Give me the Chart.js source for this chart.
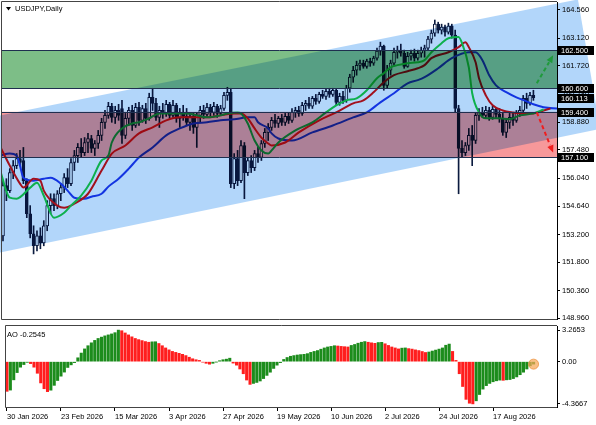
<!DOCTYPE html>
<html>
<head>
<meta charset="utf-8">
<title>USDJPY, Daily</title>
<script src="https://cdn.jsdelivr.net/npm/chart.js@4.4.1/dist/chart.umd.min.js"></script>
<style>
  html, body { margin: 0; padding: 0; background: #ffffff; }
  #wrap { position: relative; width: 596px; height: 425px; overflow: hidden; }
  canvas { position: absolute; left: 0; }
  #priceChart { top: 0; }
  #aoChart { top: 320px; }
</style>
</head>
<body>
<div id="wrap">
  <canvas id="priceChart" width="596" height="320"></canvas>
  <canvas id="aoChart" width="596" height="105"></canvas>
</div>
<script>
// ===========================
// DATA
// ===========================

const chartTitle = "USDJPY,Daily";

const dateLabels = [
  "30 Jan 2026", "23 Feb 2026", "15 Mar 2026", "3 Apr 2026", "27 Apr 2026",
  "19 May 2026", "10 Jun 2026", "2 Jul 2026", "24 Jul 2026", "17 Aug 2026",
];
const labelStep = 16; // bars between two date labels

const opens = [
  153.13, 155.67, 155.42, 156.33, 156.68, 157.04, 156.94, 155.92, 154.25, 153.24,
  152.63, 153.13, 152.78, 153.64, 154.66, 155.01, 154.66, 155.26, 155.57, 156.08,
  155.77, 156.84, 157.19, 157.60, 157.34, 157.85, 158.05, 157.55, 157.80, 158.21,
  158.87, 159.22, 159.68, 159.12, 159.47, 159.57, 158.21, 159.07, 159.47, 158.71,
  159.63, 158.97, 159.57, 159.07, 160.13, 159.83, 159.12, 159.47, 159.32, 159.78,
  159.22, 159.73, 159.07, 159.37, 159.17, 158.87, 159.17, 158.61, 159.22, 159.47,
  159.27, 159.63, 159.37, 159.68, 159.32, 159.57, 160.23, 160.39, 155.77, 157.04,
  155.92, 157.70, 156.33, 156.94, 156.58, 157.29, 157.09, 157.80, 158.36, 158.61,
  158.97, 158.81, 159.07, 158.87, 159.17, 158.97, 159.37, 159.47, 159.32, 159.73,
  159.83, 159.68, 160.08, 159.93, 160.28, 160.18, 160.44, 160.28, 160.49, 159.88,
  160.18, 159.98, 160.59, 161.15, 161.50, 161.75, 161.86, 161.70, 161.96, 161.86,
  162.11, 162.47, 162.72, 160.74, 161.50, 161.86, 162.41, 162.52, 162.36, 161.70,
  162.21, 162.36, 162.11, 162.36, 162.52, 162.62, 163.07, 163.38, 163.83, 163.53,
  163.68, 163.43, 163.73, 163.28, 159.57, 157.55, 157.34, 157.70, 158.21, 157.95,
  159.22, 159.37, 159.22, 159.47, 159.12, 159.52, 159.27, 159.07, 158.36, 158.87,
  159.12, 158.97, 159.32, 159.47, 160.08, 159.83, 160.23,
];
const highs = [
  155.92, 156.02, 156.53, 156.94, 157.29, 157.45, 157.60, 156.02, 154.66, 153.64,
  153.39, 153.54, 153.90, 154.91, 155.26, 155.26, 155.42, 155.77, 156.28, 156.53,
  157.04, 157.45, 157.80, 158.05, 158.10, 158.31, 158.21, 157.95, 158.46, 159.07,
  159.47, 159.88, 159.83, 159.68, 159.78, 159.98, 159.32, 159.63, 159.73, 159.83,
  159.88, 159.73, 159.83, 160.34, 160.59, 160.08, 159.68, 159.83, 159.98, 159.88,
  159.98, 159.83, 159.57, 159.73, 159.57, 159.37, 159.32, 159.37, 159.68, 159.73,
  159.83, 159.78, 159.88, 159.78, 159.73, 160.39, 160.64, 160.59, 157.29, 157.45,
  157.95, 157.85, 157.09, 157.19, 157.45, 157.60, 157.95, 158.56, 158.81, 159.12,
  159.27, 159.17, 159.27, 159.32, 159.37, 159.57, 159.63, 159.68, 159.88, 159.98,
  160.13, 160.18, 160.28, 160.39, 160.49, 160.54, 160.59, 160.59, 160.54, 160.34,
  160.44, 160.74, 161.30, 161.70, 161.96, 162.01, 162.01, 162.06, 162.11, 162.21,
  162.62, 162.92, 162.77, 161.75, 162.01, 162.62, 162.72, 162.82, 162.52, 162.41,
  162.52, 162.57, 162.52, 162.67, 162.77, 163.22, 163.53, 164.04, 163.93, 163.83,
  163.78, 163.88, 163.83, 163.53, 159.73, 157.95, 157.85, 158.56, 158.71, 159.37,
  159.57, 159.63, 159.68, 159.63, 159.68, 159.63, 159.57, 159.32, 159.07, 159.32,
  159.37, 159.47, 159.68, 160.23, 160.34, 160.39, 160.49,
];
const lows = [
  152.88, 154.91, 155.32, 156.02, 156.53, 156.68, 155.77, 154.05, 153.03, 152.22,
  152.37, 152.48, 152.63, 153.39, 154.25, 154.40, 154.50, 154.91, 155.32, 155.57,
  155.67, 156.43, 156.84, 157.09, 157.19, 157.34, 157.34, 157.19, 157.55, 157.95,
  158.56, 159.07, 158.87, 158.81, 158.97, 157.80, 158.05, 158.71, 158.46, 158.61,
  158.71, 158.87, 158.81, 158.97, 159.47, 158.97, 158.61, 159.07, 159.17, 159.07,
  159.12, 158.87, 158.61, 158.97, 158.71, 158.46, 158.31, 157.60, 158.87, 159.07,
  159.17, 159.12, 159.22, 159.12, 159.22, 159.47, 159.98, 155.57, 155.52, 155.67,
  155.82, 155.01, 156.18, 156.33, 156.43, 156.84, 156.94, 157.60, 157.95, 158.46,
  158.61, 158.61, 158.71, 158.71, 158.81, 158.87, 159.12, 159.17, 159.22, 159.47,
  159.57, 159.57, 159.78, 159.83, 160.08, 160.03, 160.13, 160.18, 159.73, 159.73,
  159.83, 159.88, 160.39, 160.89, 161.25, 161.50, 161.60, 161.60, 161.70, 161.75,
  162.01, 162.26, 160.49, 160.59, 161.25, 161.75, 162.11, 162.21, 161.60, 161.65,
  162.01, 161.96, 162.01, 162.16, 162.16, 162.52, 162.87, 163.22, 163.38, 163.33,
  163.22, 163.33, 163.12, 159.37, 155.26, 157.09, 157.19, 157.45, 156.68, 157.80,
  158.97, 159.12, 159.07, 158.97, 159.02, 159.07, 158.87, 158.21, 158.10, 158.56,
  158.71, 158.87, 159.17, 159.37, 159.57, 159.73, 159.98,
];
const closes = [
  155.67, 155.42, 156.33, 156.68, 157.04, 156.84, 155.92, 154.25, 153.24, 152.63,
  153.13, 152.78, 153.64, 154.66, 155.01, 154.66, 155.26, 155.57, 156.08, 155.77,
  156.84, 157.19, 157.60, 157.34, 157.85, 158.05, 157.55, 157.80, 158.21, 158.87,
  159.22, 159.68, 159.12, 159.47, 159.22, 158.21, 159.07, 159.47, 158.71, 159.63,
  158.97, 159.57, 159.07, 160.13, 159.83, 159.12, 159.47, 159.32, 159.78, 159.22,
  159.73, 159.07, 159.37, 159.17, 158.87, 159.17, 158.61, 159.22, 159.47, 159.27,
  159.63, 159.37, 159.68, 159.32, 159.57, 160.23, 160.39, 155.77, 157.04, 155.92,
  157.70, 156.33, 156.94, 156.58, 157.29, 157.09, 157.80, 158.36, 158.61, 158.97,
  158.81, 159.07, 158.87, 159.17, 158.97, 159.37, 159.47, 159.32, 159.73, 159.83,
  159.68, 160.08, 159.93, 160.28, 160.18, 160.44, 160.28, 160.49, 159.88, 160.18,
  159.98, 160.59, 161.15, 161.50, 161.75, 161.86, 161.70, 161.96, 161.86, 162.11,
  162.47, 162.72, 160.74, 161.50, 161.86, 162.41, 162.52, 162.36, 161.70, 162.21,
  162.36, 162.11, 162.36, 162.52, 162.62, 163.07, 163.38, 163.83, 163.53, 163.68,
  163.43, 163.73, 163.28, 159.57, 157.55, 157.34, 157.70, 158.21, 157.95, 159.22,
  159.37, 159.22, 159.47, 159.12, 159.52, 159.27, 159.07, 158.36, 158.87, 159.12,
  158.97, 159.32, 159.47, 160.08, 159.83, 160.23, 160.113,
];

// Alligator lines, sampled as [bar, price]
const lipsLine = [
  [-1, 156.53], [2, 155.06], [4, 155.01], [8, 155.57], [10, 155.82], [12, 155.16],
  [15, 154.05], [18, 154.30], [20, 154.66], [23, 155.16], [26, 155.92], [29, 156.94],
  [31, 157.19], [32, 157.85], [35, 158.56], [38, 158.81], [40, 158.87], [43, 159.07],
  [46, 159.32], [50, 159.32], [54, 159.32], [57, 159.22], [60, 159.12], [64, 159.22],
  [66, 159.32], [69, 159.37], [70, 159.32], [72, 158.81], [74, 157.95], [76, 157.45],
  [78, 157.29], [79, 157.45], [81, 157.85], [86, 158.46], [91, 158.87], [95, 159.37],
  [98, 159.73], [101, 159.98], [104, 160.08], [107, 160.49], [110, 161.10], [112, 161.35],
  [114, 161.65], [116, 161.76], [119, 161.86], [122, 161.91], [124, 162.01], [126, 162.41],
  [129, 162.87], [131, 163.12], [134, 163.18], [135, 162.87], [137, 161.65], [138, 160.34],
  [140, 159.37], [142, 159.07], [146, 159.07], [149, 159.02], [152, 159.22], [156, 159.32],
  [159, 159.52],
];
const teethLine = [
  [-1, 157.70], [2, 156.68], [5, 155.77], [6, 155.57], [9, 156.02], [11, 155.92],
  [12, 155.42], [16, 154.66], [18, 154.55], [21, 154.76], [25, 155.26], [29, 156.43],
  [32, 157.29], [36, 157.70], [40, 158.31], [44, 158.61], [48, 158.97], [52, 159.12],
  [56, 159.12], [60, 159.12], [64, 159.22], [68, 159.32], [70, 159.32], [72, 159.07],
  [74, 158.56], [76, 158.10], [78, 157.80], [79, 157.70], [83, 157.85], [87, 158.36],
  [93, 158.97], [98, 159.37], [103, 159.83], [106, 159.98], [109, 160.39], [112, 160.89],
  [115, 161.25], [119, 161.45], [122, 161.60], [124, 161.76], [126, 162.11], [131, 162.41],
  [134, 162.67], [136, 162.92], [137, 162.67], [139, 161.91], [140, 161.10], [142, 160.23],
  [144, 159.73], [147, 159.47], [150, 159.37], [153, 159.32], [156, 159.32], [159, 159.47],
  [161, 159.57],
];
const jawLine = [
  [-1, 157.19], [2, 157.29], [4, 157.19], [5, 156.68], [6, 156.07], [9, 155.92],
  [12, 156.02], [14, 156.07], [17, 155.77], [19, 155.42], [21, 155.06], [24, 155.01],
  [26, 155.11], [29, 155.26], [31, 155.62], [34, 156.02], [37, 156.53], [40, 157.09],
  [44, 157.60], [48, 158.21], [52, 158.56], [56, 158.81], [60, 158.87], [64, 158.97],
  [68, 159.02], [72, 159.12], [74, 159.12], [75, 158.87], [78, 158.56], [79, 158.31],
  [81, 158.05], [85, 157.95], [91, 158.36], [97, 158.71], [103, 159.12], [107, 159.37],
  [111, 159.88], [115, 160.34], [119, 160.84], [122, 161.00], [124, 161.15], [128, 161.60],
  [132, 162.11], [137, 162.41], [139, 162.41], [141, 162.01], [143, 161.25], [145, 160.74],
  [148, 160.39], [151, 160.13], [154, 159.93], [156, 159.78], [159, 159.63], [163, 159.57],
  [164, 159.57],
];

const priceTicks = [164.56, 163.12, 161.72, 160.28, 158.88, 157.48, 156.04, 154.64, 153.2, 151.8, 150.36, 148.96];
const priceMarks = [162.5, 160.6, 160.113, 159.4, 157.1];
const greenZone = [160.6, 162.5];
const redZone = [157.1, 159.4];
const zoneLevels = [162.5, 160.6, 159.4, 157.1];
const channelCorners = [[-10, 158.90], [169.1, 165.08], [175.6, 158.54], [-10, 151.97]];
const upArrow = [[157, 160.84], [161.8, 162.26]];
const downArrow = [[157, 159.37], [161.8, 157.34]];

const aoValues = [
  -3.07, -2.94, -1.88, -1.13, -0.57, -0.30, -0.07, -0.20, -0.57, -1.20,
  -2.20, -2.80, -3.10, -2.95, -2.45, -1.95, -1.50, -1.08, -0.60, -0.33,
  -0.10, 0.40, 0.89, 1.32, 1.65, 1.95, 2.20, 2.40, 2.54, 2.67,
  2.77, 2.87, 3.00, 3.2653, 3.20, 2.97, 2.77, 2.57, 2.40, 2.28,
  2.18, 2.08, 2.01, 2.05, 2.06, 1.88, 1.65, 1.42, 1.22, 1.06,
  0.96, 0.86, 0.76, 0.63, 0.46, 0.30, 0.20, 0.13, -0.05, -0.17,
  -0.26, -0.17, -0.03, 0.10, 0.20, 0.26, 0.36, -0.15, -0.36, -0.76,
  -1.25, -1.90, -2.35, -2.25, -2.15, -2.00, -1.75, -1.42, -1.09, -0.70,
  -0.36, -0.10, 0.23, 0.43, 0.56, 0.63, 0.69, 0.73, 0.76, 0.83,
  0.96, 1.06, 1.15, 1.29, 1.42, 1.52, 1.58, 1.65, 1.62, 1.58,
  1.55, 1.52, 1.68, 1.78, 1.91, 2.01, 2.08, 2.01, 1.95, 1.90,
  1.98, 2.00, 1.85, 1.68, 1.52, 1.42, 1.32, 1.40, 1.42, 1.35,
  1.30, 1.22, 1.15, 1.05, 0.95, 1.00, 1.10, 1.20, 1.30, 1.42,
  1.70, 1.82, 1.06, 0.13, -1.25, -2.57, -3.90, -4.30, -4.3667, -4.05,
  -3.40, -2.84, -2.48, -2.25, -2.08, -1.98, -1.91, -1.93, -1.88, -1.85,
  -1.75, -1.58, -1.35, -1.09, -0.76, -0.43, -0.2545,
];
const aoPrior = -2.98; // bar just left of the visible window
const aoTicks = [3.2653, 0, -4.3667];
const aoTickLabels = ["3.2653", "0.00", "-4.3667"];

// ===========================
// LOOK
// ===========================

const FONT = "'Liberation Sans', Arial, sans-serif";
const CANDLE = "#0b1b3f";
const AO_UP = "#1c8c1c";
const AO_DOWN = "#ff1e1e";
const X_MIN = -0.29;
const X_MAX = 162.94;

Chart.defaults.font.family = FONT;
Chart.defaults.font.size = 7.5;
Chart.defaults.color = "#000000";

// keep the plot edge where the terminal has it (no room kept for half labels)
function fixWidth(s) {
  s.width = 39;
  s.paddingTop = 0;
  s.paddingBottom = 0;
}

const whiteBg = {
  id: "whiteBg",
  beforeDraw(chart) {
    const ctx = chart.ctx;
    ctx.save();
    ctx.fillStyle = "#ffffff";
    ctx.fillRect(0, 0, chart.width, chart.height);
    ctx.restore();
  },
};

function frame(ctx, a) {
  ctx.save();
  ctx.strokeStyle = "#444444";
  ctx.lineWidth = 1;
  ctx.beginPath();
  ctx.moveTo(a.right, a.top - 0.5);
  ctx.lineTo(a.left - 0.5, a.top - 0.5);
  ctx.lineTo(a.left - 0.5, a.bottom + 0.5);
  ctx.lineTo(a.right, a.bottom + 0.5);
  ctx.stroke();
  ctx.restore();
}

function drawArrow(ctx, x0, y0, x1, y1, color) {
  const ang = Math.atan2(y1 - y0, x1 - x0);
  const head = 8;
  ctx.save();
  ctx.strokeStyle = color;
  ctx.fillStyle = color;
  ctx.lineWidth = 2;
  ctx.setLineDash([4, 3]);
  ctx.beginPath();
  ctx.moveTo(x0, y0);
  ctx.lineTo(x1 - head * Math.cos(ang), y1 - head * Math.sin(ang));
  ctx.stroke();
  ctx.setLineDash([]);
  ctx.beginPath();
  ctx.moveTo(x1, y1);
  ctx.lineTo(x1 - head * Math.cos(ang - 0.42), y1 - head * Math.sin(ang - 0.42));
  ctx.lineTo(x1 - head * Math.cos(ang + 0.42), y1 - head * Math.sin(ang + 0.42));
  ctx.closePath();
  ctx.fill();
  ctx.restore();
}

// zones, channel, levels and arrows on top of the price chart
const objectsPlugin = {
  id: "objects",
  afterDatasetsDraw(chart) {
    const { ctx, chartArea: a, scales } = chart;
    const x = scales.x, y = scales.y;
    const pt = (p) => [x.getPixelForValue(p[0]), y.getPixelForValue(p[1])];

    ctx.save();
    ctx.globalCompositeOperation = "multiply";
    // channel spills over the price scale like in the terminal
    ctx.beginPath();
    channelCorners.forEach((c, k) => {
      const [cx, cy] = pt(c);
      if (k) ctx.lineTo(cx, cy);
      else ctx.moveTo(cx, cy);
    });
    ctx.closePath();
    ctx.fillStyle = "#b2d6fa";
    ctx.fill();

    ctx.beginPath();
    ctx.rect(a.left, a.top, a.right - a.left, a.bottom - a.top);
    ctx.clip();
    [[greenZone, "#7dbe87"], [redZone, "#f7989a"]].forEach(([z, col]) => {
      const top = y.getPixelForValue(z[1]);
      const bottom = y.getPixelForValue(z[0]);
      ctx.fillStyle = col;
      ctx.fillRect(a.left, top, a.right - a.left, bottom - top);
    });
    ctx.restore();

    ctx.save();
    ctx.strokeStyle = "#1f2f4f";
    ctx.lineWidth = 1;
    zoneLevels.forEach((lvl) => {
      const yy = Math.round(y.getPixelForValue(lvl)) + 0.5;
      ctx.beginPath();
      ctx.moveTo(a.left, yy);
      ctx.lineTo(a.right, yy);
      ctx.stroke();
    });
    ctx.restore();

    const u0 = pt(upArrow[0]), u1 = pt(upArrow[1]);
    drawArrow(ctx, u0[0], u0[1], u1[0], u1[1], "#1f9a3a");
    const d0 = pt(downArrow[0]), d1 = pt(downArrow[1]);
    drawArrow(ctx, d0[0], d0[1], d1[0], d1[1], "#f01e1e");

    frame(ctx, a);
  },
  afterDraw(chart) {
    const { ctx, chartArea: a, scales } = chart;
    const y = scales.y;
    ctx.save();
    ctx.font = "7.5px " + FONT;
    ctx.textBaseline = "middle";
    priceMarks.forEach((p) => {
      const yy = Math.round(y.getPixelForValue(p));
      ctx.fillStyle = "#000000";
      ctx.fillRect(a.right + 1, yy - 4, 36, 9);
      ctx.fillStyle = "#ffffff";
      ctx.fillText(p.toFixed(3), a.right + 4, yy + 0.5);
    });

    // title with the little drop-down triangle
    ctx.fillStyle = "#000000";
    ctx.beginPath();
    ctx.moveTo(6, 7);
    ctx.lineTo(11, 7);
    ctx.lineTo(8.5, 10.5);
    ctx.closePath();
    ctx.fill();
    ctx.fillText(chartTitle, 15, 9);
    ctx.restore();
  },
};

const aoPlugin = {
  id: "aoText",
  afterDraw(chart) {
    const { ctx, chartArea: a } = chart;
    frame(ctx, a);
    ctx.save();
    ctx.font = "7.5px " + FONT;
    ctx.fillStyle = "#000000";
    ctx.textBaseline = "middle";
    ctx.fillText("AO " + aoValues[aoValues.length - 1].toFixed(4), 7, a.top + 8.5);
    ctx.restore();
  },
};

// ===========================
// PRICE CHART
// ===========================

const bars = closes.map((c, i) => i);

new Chart(document.getElementById("priceChart"), {
  type: "bar",
  data: {
    datasets: [
      {
        type: "line",
        data: lipsLine.map(([i, p]) => ({ x: i, y: p })),
        borderColor: "#12d24e",
        borderWidth: 2,
        pointRadius: 0,
        cubicInterpolationMode: "monotone",
        order: 1,
      },
      {
        type: "line",
        data: teethLine.map(([i, p]) => ({ x: i, y: p })),
        borderColor: "#e8141e",
        borderWidth: 2,
        pointRadius: 0,
        cubicInterpolationMode: "monotone",
        order: 1,
      },
      {
        type: "line",
        data: jawLine.map(([i, p]) => ({ x: i, y: p })),
        borderColor: "#1a3ee6",
        borderWidth: 2,
        pointRadius: 0,
        cubicInterpolationMode: "monotone",
        order: 1,
      },
      {
        data: bars.map((i) => ({ x: i, y: [opens[i], closes[i]] })),
        backgroundColor: bars.map((i) => (closes[i] >= opens[i] ? "#ffffff" : CANDLE)),
        borderColor: CANDLE,
        borderWidth: 1,
        borderSkipped: false,
        barThickness: 3,
        minBarLength: 1,
        grouped: false,
        order: 5,
      },
      {
        data: bars.map((i) => ({ x: i, y: [lows[i], highs[i]] })),
        backgroundColor: CANDLE,
        barThickness: 1,
        grouped: false,
        order: 6,
      },
    ],
  },
  options: {
    responsive: false,
    animation: false,
    devicePixelRatio: 1,
    events: [],
    layout: { padding: { left: 2, top: 2, right: 0, bottom: 1 } },
    plugins: { legend: { display: false }, tooltip: { enabled: false } },
    scales: {
      x: { type: "linear", display: false, min: X_MIN, max: X_MAX, offset: false },
      y: {
        position: "right",
        min: 148.93,
        max: 164.95,
        bounds: "data",
        afterFit: fixWidth,
        afterBuildTicks: (s) => { s.ticks = priceTicks.map((v) => ({ value: v })); },
        ticks: { callback: (v) => Number(v).toFixed(3), padding: 2, color: "#000000" },
        grid: { drawOnChartArea: false, tickLength: 3, color: "#000000" },
        border: { display: true, color: "#000000" },
      },
    },
  },
  plugins: [whiteBg, objectsPlugin],
});

// ===========================
// AWESOME OSCILLATOR
// ===========================

const aoColors = aoValues.map((v, i) => (v > (i ? aoValues[i - 1] : aoPrior) ? AO_UP : AO_DOWN));
const lastBar = aoValues.length - 1;

new Chart(document.getElementById("aoChart"), {
  type: "bar",
  data: {
    datasets: [
      {
        type: "scatter",
        data: [{ x: lastBar, y: aoValues[lastBar] }],
        pointRadius: 5,
        pointBackgroundColor: "rgba(246, 168, 88, 0.72)",
        pointBorderColor: "rgba(236, 150, 70, 0.8)",
        pointBorderWidth: 1,
        order: 0,
      },
      {
        data: aoValues.map((v, i) => ({ x: i, y: v })),
        backgroundColor: aoColors,
        barThickness: 2.4,
        order: 1,
      },
    ],
  },
  options: {
    responsive: false,
    animation: false,
    devicePixelRatio: 1,
    events: [],
    layout: { padding: { left: 2, top: 2, right: 0, bottom: 0 } },
    plugins: { legend: { display: false }, tooltip: { enabled: false } },
    scales: {
      x: {
        type: "linear",
        min: X_MIN,
        max: X_MAX,
        offset: false,
        afterFit: (s) => {
          s.height = 18;
          s.paddingLeft = 0;
          s.paddingRight = 0;
        },
        afterBuildTicks: (s) => {
          s.ticks = dateLabels.map((d, k) => ({ value: k * labelStep }));
        },
        ticks: {
          callback: (v, k) => dateLabels[k],
          align: "start",
          autoSkip: false,
          maxRotation: 0,
          padding: 1,
          color: "#000000",
        },
        grid: { drawOnChartArea: false, tickLength: 4, offset: false, color: "#000000" },
        border: { display: true, color: "#444444" },
      },
      y: {
        position: "right",
        min: -4.69,
        max: 3.69,
        bounds: "data",
        afterFit: fixWidth,
        afterBuildTicks: (s) => { s.ticks = aoTicks.map((v) => ({ value: v })); },
        ticks: { callback: (v, k) => aoTickLabels[k], padding: 2, color: "#000000" },
        grid: { drawOnChartArea: false, tickLength: 3, color: "#000000" },
        border: { display: true, color: "#000000" },
      },
    },
  },
  plugins: [whiteBg, aoPlugin],
});
</script>
</body>
</html>
